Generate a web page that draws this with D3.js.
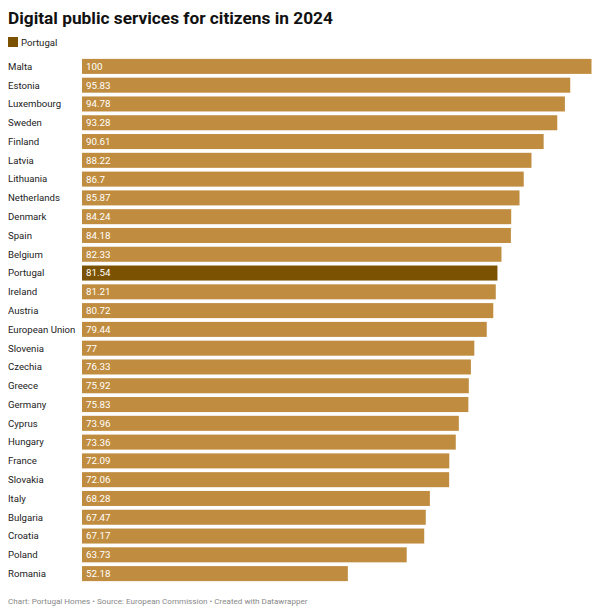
<!DOCTYPE html>
<html><head><meta charset="utf-8">
<script src="https://cdn.jsdelivr.net/npm/d3@7"></script>
<style>body{margin:0;background:#fff;font-family:Roboto,sans-serif;}</style>
</head><body>
<svg id="c" width="600" height="616"></svg>
<script>
const countries = ["Malta","Estonia","Luxembourg","Sweden","Finland","Latvia","Lithuania","Netherlands","Denmark","Spain","Belgium","Portugal","Ireland","Austria","European Union","Slovenia","Czechia","Greece","Germany","Cyprus","Hungary","France","Slovakia","Italy","Bulgaria","Croatia","Poland","Romania"];
const values = [100,95.83,94.78,93.28,90.61,88.22,86.7,85.87,84.24,84.18,82.33,81.54,81.21,80.72,79.44,77,76.33,75.92,75.83,73.96,73.36,72.09,72.06,68.28,67.47,67.17,63.73,52.18];
const highlight = "Portugal";
const title = "Digital public services for citizens in 2024";
const footer = "Chart: Portugal Homes • Source: European Commission • Created with Datawrapper";

const svg = d3.select("#c");
const baseCol = "#c08d40", hiCol = "#7b5201";
svg.append("text").attr("x",8).attr("y",24).attr("font-size",17.3).attr("font-weight",700).attr("fill","#111").text(title);
svg.append("rect").attr("x",8).attr("y",37).attr("width",10).attr("height",10).attr("fill",hiCol);
svg.append("text").attr("x",21).attr("y",45.5).attr("font-size",9.6).attr("fill","#222").text(highlight);

const x = d3.scaleLinear().domain([0,100]).range([82,591.5]);
const y = d3.scaleBand().domain(countries).range([57,583]).paddingInner(0.2).paddingOuter(0.1);

const g = svg.append("g");
const rows = g.selectAll("g").data(countries).join("g");
rows.append("rect").attr("x",x(0)).attr("y",d=>y(d)).attr("height",y.bandwidth())
  .attr("width",(d,i)=>x(values[i])-x(0)).attr("fill",d=>d===highlight?hiCol:baseCol);
rows.append("text").attr("x",8).attr("y",d=>y(d)+y.bandwidth()/2).attr("dy","0.35em")
  .attr("font-size",9.6).attr("fill","#222").text(d=>d);
rows.append("text").attr("x",x(0)+4).attr("y",d=>y(d)+y.bandwidth()/2).attr("dy","0.35em")
  .attr("font-size",9.8).attr("fill","#fff").text((d,i)=>values[i]);

svg.append("text").attr("x",8).attr("y",604).attr("font-size",8.1).attr("fill","#888").text(footer);
</script>
</body></html>
